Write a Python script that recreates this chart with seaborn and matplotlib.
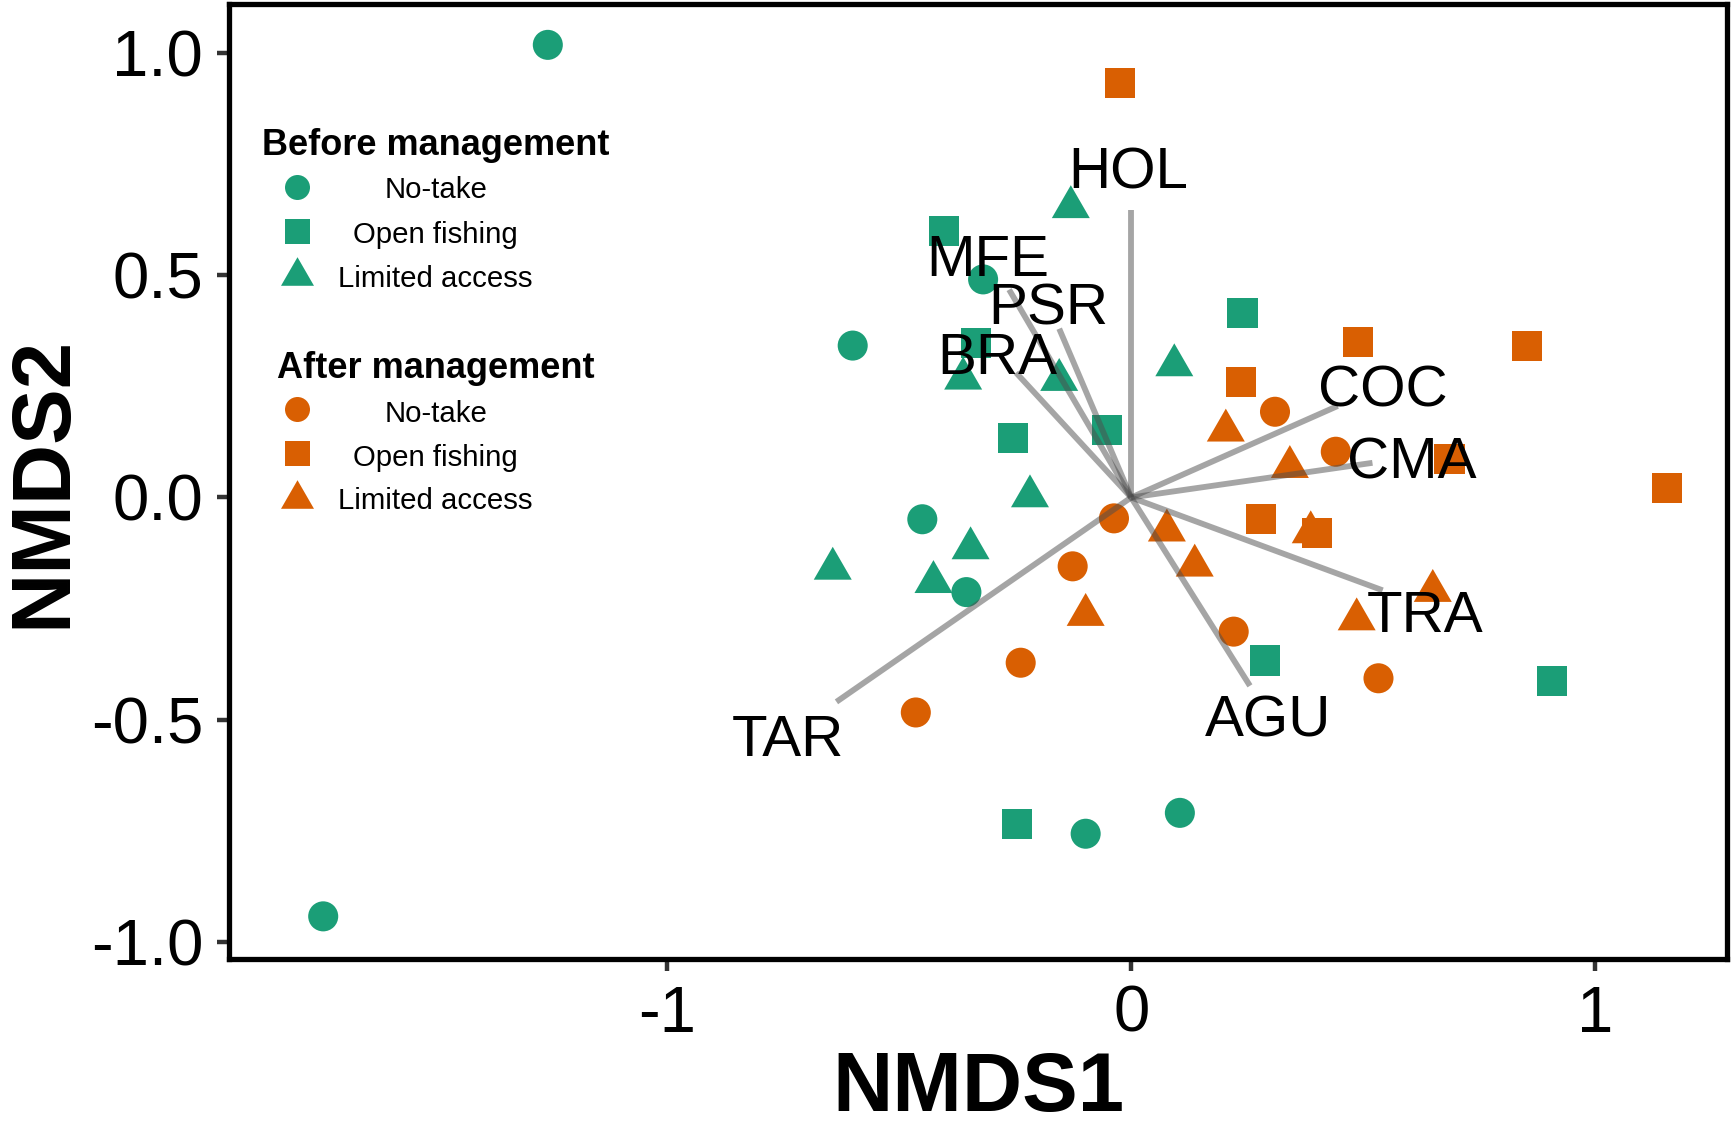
import matplotlib
matplotlib.use("Agg")
import matplotlib.pyplot as plt
import matplotlib.transforms as mtransforms
import pandas as pd
import seaborn as sns

# ---- site scores (NMDS1, NMDS2) ----
# Before management
bef_notake_x = [-1.257, -0.319, -0.600, -0.450, -0.355, -0.098, 0.105, -1.741]
bef_notake_y = [1.019, 0.491, 0.342, -0.049, -0.213, -0.757, -0.710, -0.943]
bef_open_x = [-0.403, 0.240, -0.255, -0.051, -0.334, 0.288, 0.907, -0.245]
bef_open_y = [0.599, 0.415, 0.135, 0.152, 0.347, -0.367, -0.414, -0.735]
bef_lim_x = [-0.130, 0.093, -0.362, -0.155, -0.218, -0.346, -0.426, -0.643]
bef_lim_y = [0.666, 0.310, 0.280, 0.277, 0.015, -0.102, -0.178, -0.148]
# After management
aft_notake_x = [0.310, 0.441, -0.037, -0.126, -0.238, -0.464, 0.221, 0.533]
aft_notake_y = [0.193, 0.103, -0.047, -0.155, -0.372, -0.484, -0.302, -0.407]
aft_lim_x = [0.204, 0.342, 0.387, 0.077, 0.137, -0.098, 0.486, 0.650]
aft_lim_y = [0.163, 0.081, -0.066, -0.062, -0.141, -0.252, -0.262, -0.198]
aft_open_x = [-0.024, 0.489, 0.852, 0.237, 1.155, 0.280, 0.400, 0.686]
aft_open_y = [0.934, 0.351, 0.342, 0.261, 0.021, -0.049, -0.081, 0.086]

# ---- species vectors (envfit) ----
species = ["HOL", "MFE", "PSR", "BRA", "COC", "CMA", "TRA", "AGU", "TAR"]
vec_x = [0.0, -0.263, -0.155, -0.248, 0.445, 0.520, 0.542, 0.256, -0.635]
vec_y = [0.647, 0.468, 0.380, 0.281, 0.206, 0.078, -0.209, -0.424, -0.460]
lab_x = [-0.006, -0.308, -0.179, -0.288, 0.542, 0.604, 0.633, 0.295, -0.739]
lab_y = [0.743, 0.545, 0.437, 0.326, 0.252, 0.090, -0.257, -0.491, -0.534]

periods = ["Before management", "After management"]
zones = ["No-take", "Open fishing", "Limited access"]
colors = {"Before management": "#1B9E77", "After management": "#D95F02"}

groups = [
    ("Before management", "No-take", bef_notake_x, bef_notake_y),
    ("Before management", "Open fishing", bef_open_x, bef_open_y),
    ("Before management", "Limited access", bef_lim_x, bef_lim_y),
    ("After management", "No-take", aft_notake_x, aft_notake_y),
    ("After management", "Limited access", aft_lim_x, aft_lim_y),
    ("After management", "Open fishing", aft_open_x, aft_open_y),
]
rows = []
for per, zone, xs, ys in groups:
    for x, y in zip(xs, ys):
        rows.append({"period": per, "zone": zone, "NMDS1": x, "NMDS2": y})
df = pd.DataFrame(rows)

sns.set_style("ticks")
plt.rcParams["font.family"] = ["Liberation Sans", "DejaVu Sans"]
plt.rcParams["axes.unicode_minus"] = False
plt.rcParams["text.color"] = "black"
plt.rcParams["axes.labelcolor"] = "black"

# equilateral triangle like R's pch 17
tri = [(0, 0.5), (-0.577, -0.5), (0.577, -0.5), (0, 0.5)]
markers = {"No-take": "o", "Open fishing": "s", "Limited access": tri}

fig = plt.figure(figsize=(8.66, 5.625), dpi=200)
ax = fig.add_axes([229 / 1732, 1 - 959 / 1125, 1498 / 1732, 955 / 1125])

sns.scatterplot(data=df, x="NMDS1", y="NMDS2", hue="period", style="zone",
                size="zone", palette=colors, markers=markers,
                sizes={"No-take": 117, "Open fishing": 117, "Limited access": 187},
                linewidth=0, legend=False, ax=ax, zorder=2)

# vectors from the origin
for ex, ey in zip(vec_x, vec_y):
    ax.plot([0, ex], [0, ey], color="#4d4d4d", alpha=0.5, lw=2.1,
            solid_capstyle="butt", zorder=3)

lab_tr = mtransforms.offset_copy(ax.transData, fig=fig, y=-7.5, units="points")
for s, lx, ly in zip(species, lab_x, lab_y):
    ax.text(lx, ly, s, transform=lab_tr, ha="center", va="baseline",
            fontsize=21, color="black", zorder=4)

ax.set_xlim(-1.944, 1.284)
ax.set_ylim(-1.039, 1.111)
ax.set_xticks([-1, 0, 1])
ax.set_xticklabels(["-1", "0", "1"])
ax.set_yticks([-1.0, -0.5, 0.0, 0.5, 1.0])
ax.set_yticklabels(["-1.0", "-0.5", "0.0", "0.5", "1.0"])
ax.tick_params(axis="both", direction="out", length=4.3, width=1.6,
               color="#333333", labelsize=23.5, labelcolor="black", pad=5)
for sp in ax.spines.values():
    sp.set_visible(True)
    sp.set_color("black")
    sp.set_linewidth(1.9)

ax.set_xlabel("NMDS1", fontsize=30, fontweight="bold", color="black", labelpad=2)
ax.set_ylabel("NMDS2", fontsize=30, fontweight="bold", color="black", labelpad=3)

# legend drawn by hand so labels can be centred like the original
leg_sizes = {"No-take": 81, "Open fishing": 81, "Limited access": 141}
title_y = {"Before management": 0.8419, "After management": 0.6081}
key_y = {"Before management": [0.8089, 0.7628, 0.7207],
         "After management": [0.5757, 0.5295, 0.4867]}
text_y = {"Before management": [0.7966, 0.7501, 0.7034],
          "After management": [0.5626, 0.5165, 0.4709]}
for per in periods:
    ax.text(0.138, title_y[per], per, transform=ax.transAxes, ha="center",
            va="baseline", fontsize=13, fontweight="bold", color="black")
    for i, zone in enumerate(zones):
        ax.scatter([0.0452], [key_y[per][i]], s=leg_sizes[zone],
                   marker=markers[zone], color=colors[per], linewidths=0,
                   transform=ax.transAxes, clip_on=False, zorder=5)
        ax.text(0.138, text_y[per][i], zone, transform=ax.transAxes,
                ha="center", va="baseline", fontsize=10.6, color="black")

fig.savefig("out.png", dpi=200, facecolor="white")
